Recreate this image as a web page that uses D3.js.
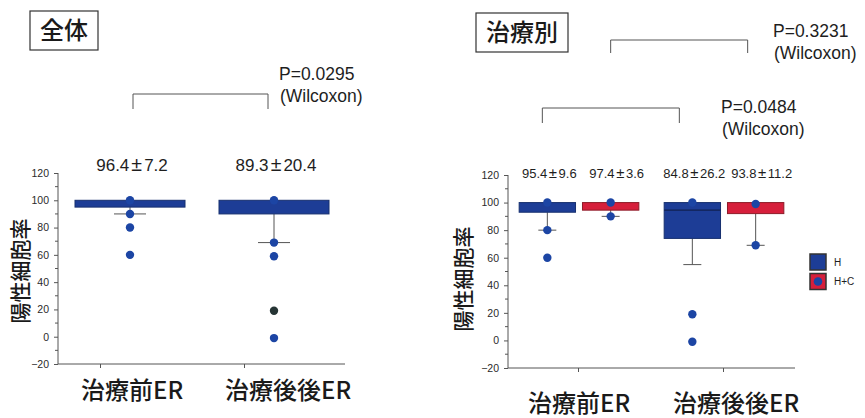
<!DOCTYPE html>
<html>
<meta charset="UTF-8">
<head>
<script src="https://d3js.org/d3.v7.min.js"></script>
<style>
  body { margin: 0; background: white; }
  svg { display: block; }
  .jp { font-family: "Noto Sans CJK JP", sans-serif; fill: #1a1a1a; }
  .num { font-family: "Liberation Sans", Arial, sans-serif; fill: #1e1e1e; }
  .axis path, .axis line { stroke: #555; }
  .axis text { font-family: "Liberation Sans", Arial, sans-serif; font-size: 10.5px; fill: #2a2a2a; }
</style>
</head>
<body>
<script>
// ---- data: 全体 (left panel)
const allCats = ["治療前ER", "治療後後ER"];
const allMeans = ["96.4±7.2", "89.3±20.4"];
const allQ3 = [100, 100];
const allQ1 = [95, 90];
const allLow = [90, 69];
const allPoints = [[100, 90, 80, 60], [100, 69, 59, 19, -1]];
const allDarkPoint = [null, 19];
const allP = ["P=0.0295", "(Wilcoxon)"];

// ---- data: 治療別 (right panel)
const groups = ["H", "H+C"];
const hQ3 = [100, 100];
const hQ1 = [93, 74];
const hMed = [100, 94.5];
const hLow = [80, 55];
const hPoints = [[100, 80, 60], [100, 19, -1]];
const hcQ3 = [100, 100];
const hcQ1 = [94.5, 92];
const hcMed = [100, 100];
const hcLow = [90, 69];
const hcPoints = [[100, 90], [99, 69]];
const byMeans = [["95.4±9.6", "97.4±3.6"], ["84.8±26.2", "93.8±11.2"]];
const byPpre = ["P=0.0484", "(Wilcoxon)"];
const byPH = ["P=0.3231", "(Wilcoxon)"];

const yTicks = [-20, 0, 20, 40, 60, 80, 100, 120];
const yMinor = d3.range(-10, 120, 20);

const BLUE = "#1d3d96", BLUE_EDGE = "#17306f";
const RED = "#d61f3b", RED_EDGE = "#8e1b28";
const DOT = "#1c45a4";

const svg = d3.select("body").append("svg")
  .attr("width", 865).attr("height", 418);

function meanText(g, x, y, s, size) {
  // ± is a full-width glyph in the original
  let parts = s.split("±");
  let t = g.append("text").attr("class", "num")
    .attr("x", x).attr("y", y)
    .attr("text-anchor", "middle")
    .attr("font-size", size);
  t.append("tspan").text(parts[0]);
  t.append("tspan").attr("dx", size * 0.12)
    .attr("font-size", size * 1.15).text("±");
  t.append("tspan").attr("dx", size * 0.12).text(parts[1]);
}

function pText(x, y, lines) {
  let t = svg.append("text").attr("class", "num").attr("font-size", 17.5);
  t.append("tspan").attr("x", x).attr("y", y).text(lines[0]);
  t.append("tspan").attr("x", x + 1).attr("y", y + 22).text(lines[1]);
}

function bracket(x1, x2, top, bottom) {
  svg.append("path")
    .attr("d", `M${x1},${bottom}V${top}H${x2}V${bottom}`)
    .attr("fill", "none").attr("stroke", "#555").attr("stroke-width", 1);
}

function titleBox(x, y, w, h, label) {
  svg.append("rect").attr("x", x).attr("y", y).attr("width", w).attr("height", h)
    .attr("fill", "white").attr("stroke", "#333").attr("stroke-width", 1.2);
  svg.append("text").attr("class", "jp")
    .attr("x", x + w / 2).attr("y", y + h / 2 + 8.5)
    .attr("text-anchor", "middle").attr("font-size", 24)
    .attr("font-weight", 500)
    .text(label);
}

function yAxis(x, y, xEnd) {
  let g = svg.append("g").attr("class", "axis")
    .attr("transform", `translate(${x},0)`)
    .call(d3.axisLeft(y).tickValues(yTicks).tickSize(4).tickPadding(5));
  g.select(".domain").remove();
  g.selectAll(".minor").data(yMinor).join("line")
    .attr("x1", -3).attr("x2", 0)
    .attr("y1", d => y(d)).attr("y2", d => y(d))
    .attr("stroke", "#555");
  svg.append("line").attr("x1", x).attr("x2", x)
    .attr("y1", y(120)).attr("y2", y(-20)).attr("stroke", "#555");
  svg.append("line").attr("x1", x).attr("x2", xEnd)
    .attr("y1", y(-20)).attr("y2", y(-20)).attr("stroke", "#555");
}

function yTitle(x, y) {
  svg.append("text").attr("class", "jp")
    .attr("transform", `translate(${x},${y}) rotate(-90)`)
    .attr("text-anchor", "middle").attr("font-size", 21)
    .attr("font-weight", 500)
    .text("陽性細胞率");
}

function drawBox(cx, w, y, q3, q1, med, low, pts, fill, edge, cap, dark) {
  svg.append("line").attr("x1", cx).attr("x2", cx)
    .attr("y1", y(q1)).attr("y2", y(low)).attr("stroke", "#555");
  svg.append("line").attr("x1", cx - cap / 2).attr("x2", cx + cap / 2)
    .attr("y1", y(low)).attr("y2", y(low)).attr("stroke", "#555");
  svg.append("rect")
    .attr("x", cx - w / 2).attr("y", y(q3))
    .attr("width", w).attr("height", y(q1) - y(q3))
    .attr("fill", fill).attr("stroke", edge).attr("stroke-width", 1);
  if (med != null && med < q3) {
    svg.append("line").attr("x1", cx - w / 2).attr("x2", cx + w / 2)
      .attr("y1", y(med)).attr("y2", y(med)).attr("stroke", "#102050").attr("stroke-width", 1.2);
  }
  svg.selectAll(null).data(pts).join("circle")
    .attr("cx", cx).attr("cy", d => y(d)).attr("r", 4.2)
    .attr("fill", d => d === dark ? "#263535" : DOT);
}

// ================= left panel: 全体 =================
{
  const y = d3.scaleLinear().domain([-20, 120]).range([364, 173]);
  const x = d3.scalePoint().domain(allCats).range([100, 244]);
  const shift = 30, bw = 110;

  titleBox(30, 11, 68, 39, "全体");
  yAxis(58, y, 345);
  let xg = svg.append("g").attr("class", "axis")
    .attr("transform", `translate(0,${y(-20)})`)
    .call(d3.axisBottom(x).tickSize(4).tickFormat(""));
  xg.select(".domain").remove();

  allCats.forEach((c, i) => {
    drawBox(x(c) + shift, bw, y, allQ3[i], allQ1[i], null, allLow[i],
      allPoints[i], BLUE, BLUE_EDGE, 32, allDarkPoint[i]);
    meanText(svg, x(c) + shift + 2, 171, allMeans[i], 17);
    svg.append("text").attr("class", "jp")
      .attr("x", x(c) - 19).attr("y", 399)
      .attr("font-size", 24).attr("font-weight", 500).text(c);
  });
  yTitle(28, 271);

  bracket(x(allCats[0]) + shift + 3, x(allCats[1]) + shift - 6, 94, 109);
  pText(279, 80, allP);
}

// ================= right panel: 治療別 =================
{
  const y = d3.scaleLinear().domain([-20, 120]).range([368, 175]);
  const x = d3.scalePoint().domain(allCats).range([578, 723]);
  const sub = d3.scaleBand().domain(groups).range([-62, 64])
    .paddingInner(0.11).paddingOuter(0.05);
  const bw = sub.bandwidth();
  const cxs = (c, gname) => x(c) + sub(gname) + bw / 2;

  titleBox(476, 13, 92, 39, "治療別");
  yAxis(508, y, 795);
  let xg = svg.append("g").attr("class", "axis")
    .attr("transform", `translate(0,${y(-20)})`)
    .call(d3.axisBottom(x).tickSize(4).tickFormat(""));
  xg.select(".domain").remove();

  allCats.forEach((c, i) => {
    drawBox(cxs(c, "H"), bw, y, hQ3[i], hQ1[i], hMed[i], hLow[i],
      hPoints[i], BLUE, BLUE_EDGE, 18, null);
    drawBox(cxs(c, "H+C"), bw, y, hcQ3[i], hcQ1[i], hcMed[i], hcLow[i],
      hcPoints[i], RED, RED_EDGE, 18, null);
    meanText(svg, cxs(c, "H") + 2, 178, byMeans[i][0], 13);
    meanText(svg, cxs(c, "H+C") + 6, 178, byMeans[i][1], 13);
    svg.append("text").attr("class", "jp")
      .attr("x", x(c) - 50).attr("y", 412)
      .attr("font-size", 24).attr("font-weight", 500).text(c);
  });
  yTitle(471, 279);

  bracket(cxs(allCats[0], "H") - 5, cxs(allCats[1], "H") - 13, 108, 123);
  bracket(cxs(allCats[0], "H+C"), cxs(allCats[1], "H+C") - 8, 40, 53);
  pText(721, 113, byPpre);
  pText(773, 37, byPH);

  // legend
  const leg = svg.append("g").attr("transform", "translate(810,254)");
  groups.forEach((gname, i) => {
    let row = leg.append("g").attr("transform", `translate(0,${i * 19.5})`);
    row.append("rect").attr("x", 0).attr("y", 0).attr("width", 16).attr("height", 16)
      .attr("fill", i === 0 ? BLUE : RED).attr("stroke", "#333").attr("stroke-width", 1.5);
    if (i === 1) row.append("circle").attr("cx", 8).attr("cy", 8).attr("r", 4.3).attr("fill", DOT);
    row.append("text").attr("class", "num")
      .attr("x", 24).attr("y", 12).attr("font-size", 10)
      .attr("transform", "scale(1,1.15)").attr("transform-origin", "24 12")
      .text(gname);
  });
}
</script>
</body>
</html>
